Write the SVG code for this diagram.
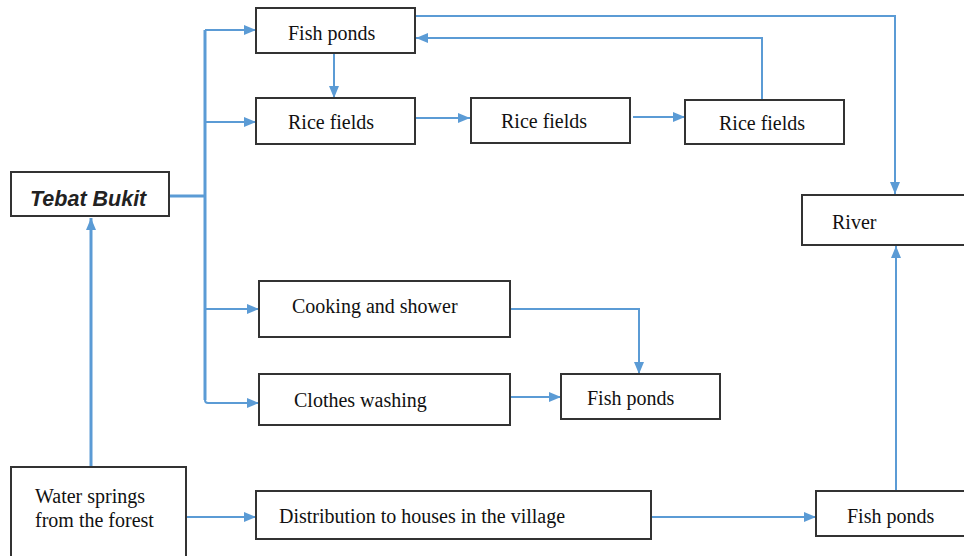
<svg xmlns="http://www.w3.org/2000/svg" width="964" height="556" viewBox="0 0 964 556">
<style>
.box{fill:#fff;stroke:#333;stroke-width:2}
.t{font-family:"Liberation Serif","Times New Roman",serif;font-size:20px;fill:#111}
.tb{font-family:"Liberation Sans",Arial,sans-serif;font-size:21.5px;font-style:italic;font-weight:bold;fill:#222}
.c{fill:none;stroke:#5b9bd5;stroke-width:2}
.ct{fill:none;stroke:#5b9bd5;stroke-width:3}
</style>
<defs>
<marker id="a" viewBox="0 0 12 10" refX="12" refY="5" markerWidth="12" markerHeight="10" markerUnits="userSpaceOnUse" orient="auto">
<path d="M0,0 L12,5 L0,10 Z" fill="#5b9bd5"/>
</marker>
</defs>
<g id="connectors">
<path class="ct" d="M91,466 V218" marker-end="url(#a)"/>
<path class="ct" d="M169,196 H205"/>
<path class="ct" d="M205,400 V30"/>
<path class="c" d="M205,30 H256" marker-end="url(#a)"/>
<path class="c" d="M205,122 H256" marker-end="url(#a)"/>
<path class="c" d="M205,309 H259" marker-end="url(#a)"/>
<path class="c" d="M205,400 Q205,403 208,403 H259" marker-end="url(#a)"/>
<path class="c" d="M334,53 V98" marker-end="url(#a)"/>
<path class="c" d="M416,118 H470" marker-end="url(#a)"/>
<path class="c" d="M633,117 H685" marker-end="url(#a)"/>
<path class="c" d="M762,100 V38 H416" marker-end="url(#a)"/>
<path class="c" d="M416,16 H895 V194" marker-end="url(#a)"/>
<path class="c" d="M510,309 H639 V374" marker-end="url(#a)"/>
<path class="c" d="M510,397 H561" marker-end="url(#a)"/>
<path class="c" d="M186,517 H256" marker-end="url(#a)"/>
<path class="c" d="M651,517 H816" marker-end="url(#a)"/>
<path class="c" d="M896,491 V246" marker-end="url(#a)"/>
</g>
<g id="tebat"><rect class="box" x="11" y="172" width="158" height="44"/><text class="tb" x="30" y="206">Tebat Bukit</text></g>
<g id="fish1"><rect class="box" x="256" y="8" width="159" height="45"/><text class="t" x="288" y="40">Fish ponds</text></g>
<g id="rice1"><rect class="box" x="256" y="98" width="159" height="46"/><text class="t" x="288" y="129">Rice fields</text></g>
<g id="rice2"><rect class="box" x="471" y="98" width="159" height="45"/><text class="t" x="501" y="128">Rice fields</text></g>
<g id="rice3"><rect class="box" x="685" y="100" width="159" height="44"/><text class="t" x="719" y="130">Rice fields</text></g>
<g id="river"><rect class="box" x="802" y="195" width="170" height="50"/><text class="t" x="832" y="229">River</text></g>
<g id="cooking"><rect class="box" x="259" y="281" width="251" height="56"/><text class="t" x="292" y="313">Cooking and shower</text></g>
<g id="clothes"><rect class="box" x="259" y="374" width="251" height="51"/><text class="t" x="294" y="407">Clothes washing</text></g>
<g id="fish2"><rect class="box" x="561" y="374" width="159" height="45"/><text class="t" x="587" y="405">Fish ponds</text></g>
<g id="springs"><rect class="box" x="11" y="467" width="175" height="100"/><text class="t" x="35" y="503">Water springs</text><text class="t" x="35" y="527">from the forest</text></g>
<g id="distribution"><rect class="box" x="256" y="491" width="395" height="48"/><text class="t" x="279" y="523">Distribution to houses in the village</text></g>
<g id="fish3"><rect class="box" x="816" y="491" width="160" height="45"/><text class="t" x="847" y="523">Fish ponds</text></g>
</svg>
